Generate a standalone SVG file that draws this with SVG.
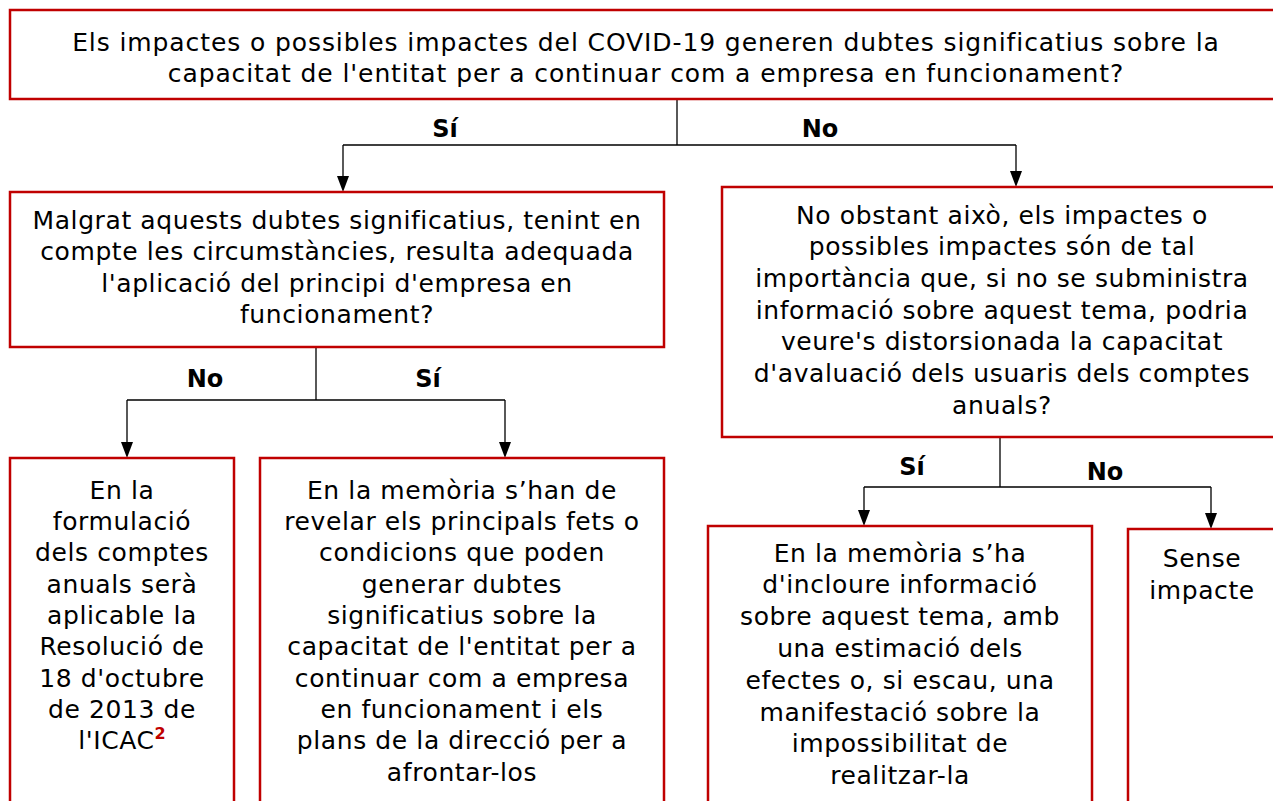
<svg xmlns="http://www.w3.org/2000/svg" width="1273" height="801" viewBox="0 0 1273 801">
<defs>
<style>
.box{fill:#fff;stroke:#C00000;stroke-width:2.5}
.t{font-family:"DejaVu Sans",Verdana,sans-serif;font-size:25px;letter-spacing:0.6px;fill:#000;text-anchor:middle}
.wide{letter-spacing:0.9px}
.lbl{font-family:"DejaVu Sans",Verdana,sans-serif;font-size:24px;font-weight:bold;fill:#000;text-anchor:middle}
.sup{font-weight:bold;fill:#C00000;font-size:16px;letter-spacing:0}
.c{fill:none;stroke:#000;stroke-width:1.3}
</style>
</defs>
<rect width="1273" height="801" fill="#fff"/>
<g id="connectors">
<path class="c" d="M677,99 V145 M343,145 H1016"/>
<path class="c" d="M343,145 V176" />
<path d="M337,176 L349,176 L343,192 Z"/>
<path class="c" d="M1016,145 V171"/>
<path d="M1010,171 L1022,171 L1016,187 Z"/>
<path class="c" d="M316,347 V400 M127,400 H505 M127,400 V442 M505,400 V442"/>
<path d="M121,442 L133,442 L127,458 Z"/>
<path d="M499,442 L511,442 L505,458 Z"/>
<path class="c" d="M1000,437 V487 M864,487 H1211 M864,487 V510 M1211,487 V513"/>
<path d="M858,510 L870,510 L864,526 Z"/>
<path d="M1205,513 L1217,513 L1211,529 Z"/>
<text class="lbl" x="445" y="137">Sí</text>
<text class="lbl" x="820" y="137">No</text>
<text class="lbl" x="205" y="387">No</text>
<text class="lbl" x="428" y="387">Sí</text>
<text class="lbl" x="912" y="475">Sí</text>
<text class="lbl" x="1105" y="480">No</text>
</g>
<g id="n1">
<rect class="box" x="10" y="10" width="1272" height="89"/>
<text class="t wide" x="646" y="51">Els impactes o possibles impactes del COVID-19 generen dubtes significatius sobre la</text>
<text class="t wide" x="646" y="82">capacitat de l'entitat per a continuar com a empresa en funcionament?</text>
</g>
<g id="n2">
<rect class="box" x="10" y="192" width="654" height="155"/>
<text class="t" x="337" y="229">Malgrat aquests dubtes significatius, tenint en</text>
<text class="t" x="337" y="260">compte les circumstàncies, resulta adequada</text>
<text class="t" x="337" y="292">l'aplicació del principi d'empresa en</text>
<text class="t" x="337" y="323">funcionament?</text>
</g>
<g id="n3">
<rect class="box" x="722" y="187" width="560" height="250"/>
<text class="t" x="1002" y="224">No obstant això, els impactes o</text>
<text class="t" x="1002" y="255">possibles impactes són de tal</text>
<text class="t" x="1002" y="287">importància que, si no se subministra</text>
<text class="t" x="1002" y="319">informació sobre aquest tema, podria</text>
<text class="t" x="1002" y="350">veure's distorsionada la capacitat</text>
<text class="t" x="1002" y="382">d'avaluació dels usuaris dels comptes</text>
<text class="t" x="1002" y="414">anuals?</text>
</g>
<g id="n4">
<rect class="box" x="10" y="458" width="224" height="360"/>
<text class="t" x="122" y="499">En la</text>
<text class="t" x="122" y="530">formulació</text>
<text class="t" x="122" y="561">dels comptes</text>
<text class="t" x="122" y="593">anuals serà</text>
<text class="t" x="122" y="624">aplicable la</text>
<text class="t" x="122" y="655">Resolució de</text>
<text class="t" x="122" y="687">18 d'octubre</text>
<text class="t" x="122" y="718">de 2013 de</text>
<text class="t" x="122" y="749">l'ICAC<tspan class="sup" dy="-10">2</tspan></text>
</g>
<g id="n5">
<rect class="box" x="260" y="458" width="404" height="360"/>
<text class="t" x="462" y="499">En la memòria s’han de</text>
<text class="t" x="462" y="530">revelar els principals fets o</text>
<text class="t" x="462" y="561">condicions que poden</text>
<text class="t" x="462" y="593">generar dubtes</text>
<text class="t" x="462" y="624">significatius sobre la</text>
<text class="t" x="462" y="655">capacitat de l'entitat per a</text>
<text class="t" x="462" y="687">continuar com a empresa</text>
<text class="t" x="462" y="718">en funcionament i els</text>
<text class="t" x="462" y="749">plans de la direcció per a</text>
<text class="t" x="462" y="781">afrontar-los</text>
</g>
<g id="n6">
<rect class="box" x="708" y="526" width="384" height="300"/>
<text class="t" x="900" y="562">En la memòria s’ha</text>
<text class="t" x="900" y="593">d'incloure informació</text>
<text class="t" x="900" y="625">sobre aquest tema, amb</text>
<text class="t" x="900" y="657">una estimació dels</text>
<text class="t" x="900" y="689">efectes o, si escau, una</text>
<text class="t" x="900" y="721">manifestació sobre la</text>
<text class="t" x="900" y="752">impossibilitat de</text>
<text class="t" x="900" y="784">realitzar-la</text>
</g>
<g id="n7">
<rect class="box" x="1128" y="529" width="150" height="300"/>
<text class="t" x="1202" y="567">Sense</text>
<text class="t" x="1202" y="599">impacte</text>
</g>
</svg>
